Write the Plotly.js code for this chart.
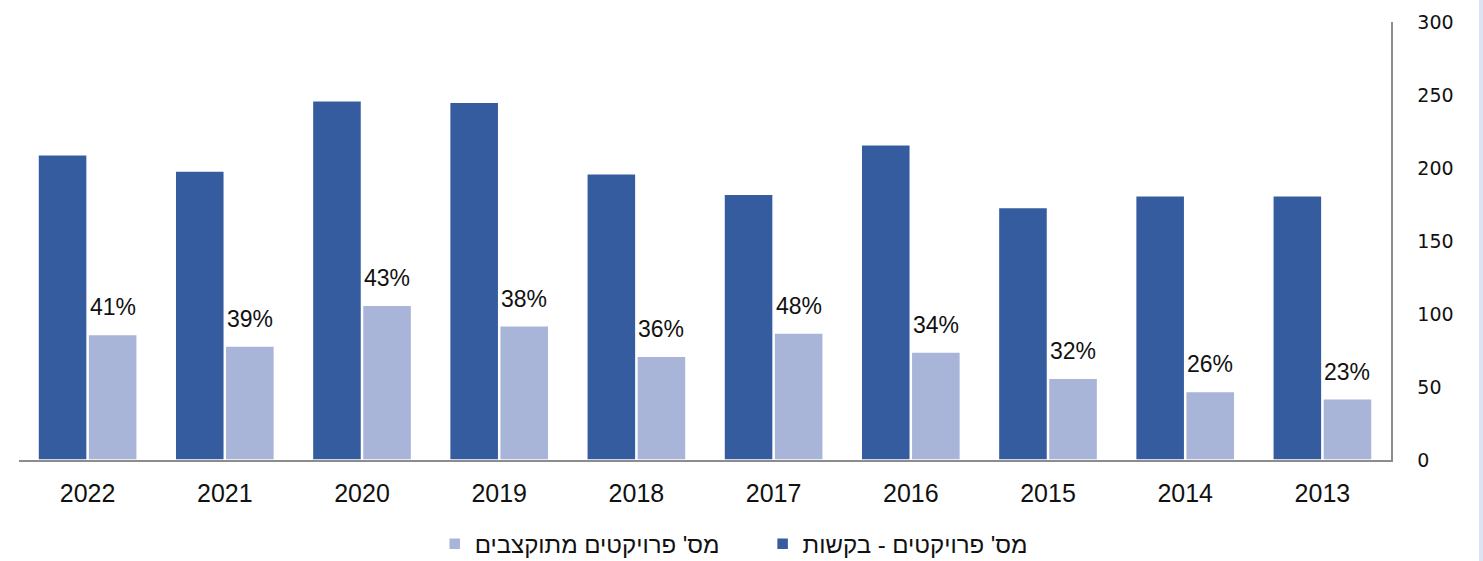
<!DOCTYPE html>
<html>
<head>
<meta charset="utf-8">
<script src="https://cdn.plot.ly/plotly-3.0.1.min.js"></script>
<style>
html,body{margin:0;padding:0;background:#fff;}
#wrap{position:relative;width:1483px;height:561px;}
#chart{width:1483px;height:561px;}
#edge{position:absolute;top:0;right:0;width:4px;height:561px;background:#DCE3F2;}
</style>
</head>
<body>
<div id="wrap"><div id="chart"></div><div id="edge"></div></div>
<script>
const years = ['2022','2021','2020','2019','2018','2017','2016','2015','2014','2013'];
const requests = [209, 198, 246, 245, 196, 182, 216, 173, 181, 181];
const funded = [86, 78, 106, 92, 71, 87, 74, 56, 47, 42];
const pctLabels = ['41%','39%','43%','38%','36%','48%','34%','32%','26%','23%'];
const nameRequests = "מס' פרויקטים - בקשות";
const nameFunded = "מס' פרויקטים מתוקצבים";

const FONT = 'Liberation Sans, Arial, sans-serif';

const data = [
  {
    type: 'bar', x: years, y: requests, name: nameRequests, legend: 'legend2',
    marker: {color: '#365CA0', line: {color: '#ffffff', width: 1.5}},
    hoverinfo: 'x+y'
  },
  {
    type: 'bar', x: years, y: funded, name: nameFunded, legend: 'legend',
    marker: {color: '#A8B5D9', line: {color: '#ffffff', width: 1.5}},
    hoverinfo: 'x+y'
  }
];

// percentage labels above the funded bars (x = category index)
const annotations = years.map((yr, i) => ({
  x: i, y: funded[i], xref: 'x', yref: 'y',
  text: pctLabels[i], showarrow: false,
  xanchor: 'center', yanchor: 'bottom',
  xshift: 25, yshift: 12,
  font: {family: FONT, size: 23, color: '#111'}
}));

const legendBase = {orientation: 'h', xanchor: 'left',
  yref: 'container', y: 0.03, yanchor: 'middle',
  font: {family: FONT, size: 24, color: '#111'}};

const layout = {
  width: 1483, height: 561,
  margin: {l: 19, r: 92, t: 22, b: 101},
  paper_bgcolor: '#ffffff', plot_bgcolor: '#ffffff',
  barmode: 'group', bargap: 0.27, bargroupgap: 0.02,
  showlegend: true,
  legend: Object.assign({}, legendBase, {x: 0.303}),
  legend2: Object.assign({}, legendBase, {x: 0.542}),
  annotations: annotations,
  xaxis: {
    type: 'category', showgrid: false, zeroline: false,
    showline: true, linecolor: '#8c8c8c', linewidth: 1.5,
    ticks: '', ticklabelstandoff: 10,
    tickfont: {family: FONT, size: 25, color: '#111'}
  },
  yaxis: {
    side: 'right', range: [0, 300], dtick: 50, tick0: 0,
    showgrid: false, zeroline: false,
    showline: true, linecolor: '#8c8c8c', linewidth: 1.5,
    ticks: '', ticklabelstandoff: 21,
    tickfont: {family: 'DejaVu Sans, sans-serif', size: 19, color: '#111'}
  }
};

Plotly.newPlot('chart', data, layout, {displayModeBar: false, staticPlot: true});
</script>
</body>
</html>
